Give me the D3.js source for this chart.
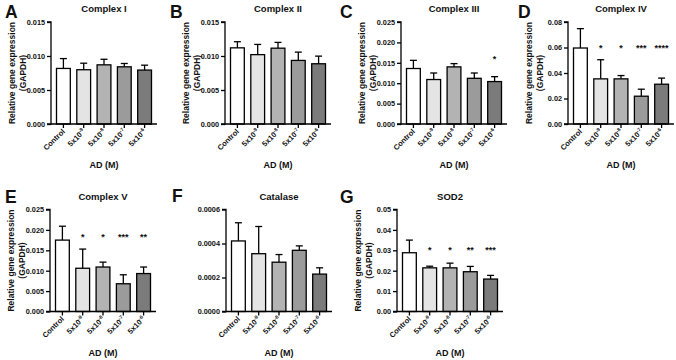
<!DOCTYPE html>
<html>
<head>
<meta charset="utf-8">
<script src="https://cdn.jsdelivr.net/npm/d3@7"></script>
<style>
  body { margin: 0; background: #fff; }
  svg { display: block; font-family: "Liberation Sans", Arial, sans-serif; font-weight: bold; }
</style>
</head>
<body>
<div id="chart"></div>
<script>
// groups on the x axis (exponent shown as superscript)
const groupBase = ["Control", "5x10", "5x10", "5x10", "5x10"];
const groupExp = ["", "-9", "-8", "-7", "-6"];
const barColors = ["#ffffff", "#e4e4e4", "#b3b3b3", "#9b9b9b", "#7b7b7b"];

const panelLetters = ["A", "B", "C", "D", "E", "F", "G"];
const panelTitles = ["Complex I", "Complex II", "Complex III", "Complex IV", "Complex V", "Catalase", "SOD2"];

// means and upper error (SD)
const complexIMean = [0.00817, 0.00798, 0.0087, 0.00841, 0.00793];
const complexIErr = [0.00145, 0.00096, 0.00082, 0.00049, 0.00072];
const complexIIMean = [0.0112, 0.0102, 0.01115, 0.00935, 0.00886];
const complexIIErr = [0.0009, 0.0015, 0.00085, 0.00122, 0.00112];
const complexIIIMean = [0.0136, 0.0109, 0.0140, 0.0112, 0.0104];
const complexIIIErr = [0.0020, 0.0016, 0.0008, 0.0013, 0.0012];
const complexIVMean = [0.0596, 0.0354, 0.0354, 0.0218, 0.0312];
const complexIVErr = [0.0152, 0.0150, 0.0026, 0.0055, 0.0048];
const complexVMean = [0.0175, 0.0106, 0.0109, 0.0068, 0.0093];
const complexVErr = [0.0034, 0.0047, 0.0012, 0.0022, 0.0016];
const catalaseMean = [0.000415, 0.00034, 0.00029, 0.00036, 0.00022];
const catalaseErr = [0.000107, 0.00016, 0.000045, 0.000026, 0.000037];
const sod2Mean = [0.0288, 0.0214, 0.0214, 0.0195, 0.0159];
const sod2Err = [0.0062, 0.0008, 0.0023, 0.0026, 0.0018];

// significance marks and the level they sit at
const complexIIIStars = ["", "", "", "", "*"];
const complexIVStars = ["", "*", "*", "***", "****"];
const complexVStars = ["", "*", "*", "***", "**"];
const sod2Stars = ["", "*", "*", "**", "***"];
const noStars = ["", "", "", "", ""];
const starLevels = [0, 0, 0.0161, 0.0604, 0.0186, 0, 0.0308];

// y axis: max and tick step, decimals
const yMax = [0.015, 0.015, 0.025, 0.08, 0.025, 0.0006, 0.05];
const yStep = [0.005, 0.005, 0.005, 0.02, 0.005, 0.0002, 0.01];
const yDecimals = [3, 3, 3, 2, 3, 4, 2];

const means = [complexIMean, complexIIMean, complexIIIMean, complexIVMean, complexVMean, catalaseMean, sod2Mean];
const errs = [complexIErr, complexIIErr, complexIIIErr, complexIVErr, complexVErr, catalaseErr, sod2Err];
const stars = [noStars, noStars, complexIIIStars, complexIVStars, complexVStars, noStars, sod2Stars];

// panel placement
const layout = [
  { x: 51, top: 22, bottom: 124, letterX: 5, letterY: 18, yLabel: true },
  { x: 225, top: 22, bottom: 124, letterX: 170, letterY: 18, yLabel: true },
  { x: 401, top: 22, bottom: 124, letterX: 340, letterY: 18, yLabel: true },
  { x: 568, top: 22, bottom: 124, letterX: 518, letterY: 18, yLabel: true },
  { x: 50, top: 209.5, bottom: 311.5, letterX: 5, letterY: 203, yLabel: true },
  { x: 226, top: 209.5, bottom: 311.5, letterX: 172, letterY: 202, yLabel: false },
  { x: 397, top: 209.5, bottom: 311.5, letterX: 340, letterY: 203, yLabel: true }
];

const W = 676, H = 360;
const svg = d3.select("#chart").append("svg")
  .attr("width", W).attr("height", H);

layout.forEach((p, k) => {
  const axisLen = 106;
  const xScale = d3.scaleBand().domain(d3.range(5))
    .range([p.x + 5.5, p.x + 5.5 + 95]).paddingInner(0.32).paddingOuter(0);
  const yScale = d3.scaleLinear().domain([0, yMax[k]]).range([p.bottom, p.top]);
  const g = svg.append("g").attr("fill", "#111");

  // panel letter
  g.append("text").attr("x", p.letterX).attr("y", p.letterY)
    .attr("font-size", 17.5).text(panelLetters[k]);

  // title
  g.append("text").attr("x", p.x + 53).attr("y", p.top - 10)
    .attr("text-anchor", "middle").attr("font-size", 9.5).text(panelTitles[k]);

  const rows = means[k].map((m, i) => ({ i, m, e: errs[k][i], s: stars[k][i] }));
  const cx = i => xScale(i) + xScale.bandwidth() / 2;

  // error bars (upper only)
  rows.forEach(d => {
    g.append("line").attr("x1", cx(d.i)).attr("x2", cx(d.i))
      .attr("y1", yScale(d.m)).attr("y2", yScale(d.m + d.e))
      .attr("stroke", "#000").attr("stroke-width", 1.3);
    g.append("line").attr("x1", cx(d.i) - 3.5).attr("x2", cx(d.i) + 3.5)
      .attr("y1", yScale(d.m + d.e)).attr("y2", yScale(d.m + d.e))
      .attr("stroke", "#000").attr("stroke-width", 1.3);
  });

  // bars
  g.selectAll("rect.bar").data(rows).join("rect")
    .attr("class", "bar")
    .attr("x", d => xScale(d.i))
    .attr("width", xScale.bandwidth())
    .attr("y", d => yScale(d.m))
    .attr("height", d => yScale(0) - yScale(d.m))
    .attr("fill", d => barColors[d.i])
    .attr("stroke", "#000").attr("stroke-width", 1.3);

  // stars
  g.selectAll("text.star").data(rows.filter(d => d.s)).join("text")
    .attr("class", "star")
    .attr("x", d => cx(d.i)).attr("y", yScale(starLevels[k]) + 4)
    .attr("text-anchor", "middle").attr("font-size", 9).text(d => d.s);

  // y axis
  const ticks = d3.range(0, yMax[k] + yStep[k] / 2, yStep[k]);
  const yAxis = d3.axisLeft(yScale).tickValues(ticks).tickSize(4).tickPadding(2)
    .tickFormat(d3.format(`.${yDecimals[k]}f`));
  const ya = g.append("g").attr("transform", `translate(${p.x},0)`).call(yAxis);
  ya.select(".domain").attr("stroke", "#000").attr("stroke-width", 1.3)
    .attr("d", `M-4,${yScale(yMax[k])}H0V${yScale(0)}H-4`);
  ya.selectAll(".tick line").attr("stroke", "#000").attr("stroke-width", 1.3);
  ya.selectAll("text").attr("fill", "#111").attr("font-size", 7.3)
    .attr("font-family", "Liberation Sans, Arial").attr("font-weight", "bold");

  // x axis
  g.append("line").attr("x1", p.x).attr("x2", p.x + axisLen)
    .attr("y1", p.bottom).attr("y2", p.bottom).attr("stroke", "#000").attr("stroke-width", 1.3);
  rows.forEach(d => {
    g.append("line").attr("x1", cx(d.i)).attr("x2", cx(d.i))
      .attr("y1", p.bottom).attr("y2", p.bottom + 4)
      .attr("stroke", "#000").attr("stroke-width", 1.3);
    const t = g.append("text")
      .attr("transform", `translate(${cx(d.i) + 2},${p.bottom + 8}) rotate(-45)`)
      .attr("text-anchor", "end").attr("font-size", 7.5);
    t.append("tspan").text(groupBase[d.i]);
    if (groupExp[d.i]) {
      t.append("tspan").attr("font-size", 5).attr("dy", -3).text(groupExp[d.i]);
    }
  });

  // x title
  g.append("text").attr("x", p.x + 53).attr("y", p.bottom + 44)
    .attr("text-anchor", "middle").attr("font-size", 9).text("AD (M)");

  // y title
  if (p.yLabel) {
    const midY = (p.top + p.bottom) / 2;
    g.append("text").attr("transform", `translate(${p.x - 36},${midY}) rotate(-90)`)
      .attr("text-anchor", "middle").attr("font-size", 8.5).text("Relative gene expression");
    g.append("text").attr("transform", `translate(${p.x - 25},${midY}) rotate(-90)`)
      .attr("text-anchor", "middle").attr("font-size", 8.5).text("(GAPDH)");
  }
});
</script>
</body>
</html>
